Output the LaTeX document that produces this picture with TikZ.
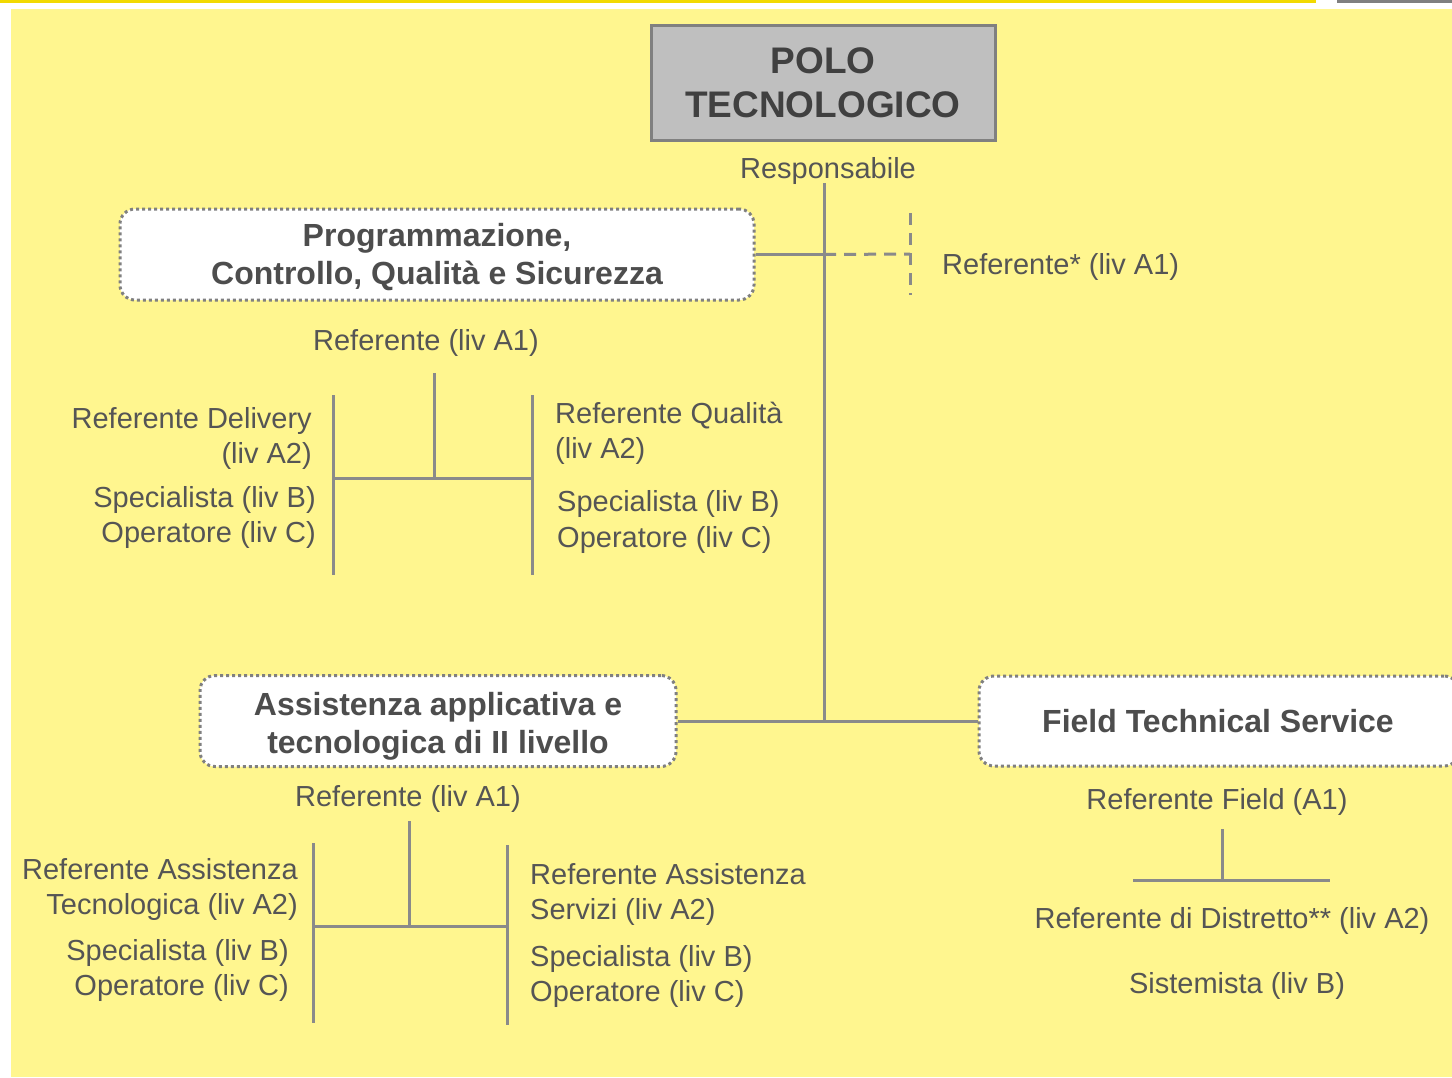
\documentclass[tikz,border=0pt]{standalone}
\usepackage{fontspec}
\setmainfont{Liberation Sans}
\definecolor{bgyellow}{HTML}{FFF68F}
\definecolor{topgold}{HTML}{F2D900}
\definecolor{topgray}{HTML}{7F7F7F}
\definecolor{txtgray}{HTML}{555555}
\definecolor{ttlgray}{HTML}{4D4D4D}
\definecolor{polotxt}{HTML}{404040}
\definecolor{linegray}{HTML}{8A8A8A}
\definecolor{dotgray}{HTML}{808080}
\definecolor{polofill}{HTML}{BFBFBF}
\begin{document}
\begin{tikzpicture}[x=1pt,y=-1pt,
  lbl/.style={font=\fontsize{29}{35}\selectfont, text=txtgray, inner sep=0pt},
  ttl/.style={font=\fontsize{32}{38}\selectfont\bfseries, text=ttlgray, inner sep=0pt, align=center},
  unitbox/.style={draw=dotgray, line width=3pt, dash pattern=on 3pt off 3pt, rounded corners=15pt, fill=white, inner sep=0pt},
  polobox/.style={draw=dotgray, line width=3pt, fill=polofill, inner sep=0pt},
  conn/.style={draw=linegray, line width=3pt},
  dconn/.style={conn, dash pattern=on 12pt off 8pt}]
\useasboundingbox (0,0) rectangle (1452,1077);
\clip (0,0) rectangle (1452,1077);
\fill[white] (0,0) rectangle (1452,1077);
\fill[bgyellow] (11,9) rectangle (1452,1077);
\fill[topgold] (0,0) rectangle (1316,2.5);
\fill[topgray] (1337,0) rectangle (1452,2.5);

% head
\node[polobox, minimum width=344pt, minimum height=115pt] (polo) at (823,82.5) {};
\node[font=\fontsize{37}{44}\selectfont\bfseries, text=polotxt, align=center, inner sep=0pt] (polotext) at (823,82.5) {POLO\\TECNOLOGICO};
\node[lbl, anchor=base] (resp) at (828,178) {Responsabile};

% boxes
\node[unitbox, minimum width=634pt, minimum height=91pt] (pcq) at (437,254.5) {};
\node[ttl] (pcqtext) at (437,256.9) {Programmazione,\\Controllo, Qualità e Sicurezza};
\node[unitbox, minimum width=476pt, minimum height=91pt] (assist) at (438,721) {};
\node[ttl] (assisttext) at (438,726) {Assistenza applicativa e\\tecnologica di II livello};
\node[unitbox, minimum width=480pt, minimum height=90pt] (field) at (1219,721) {};
\node[ttl, anchor=base] (fieldtext) at (1218,732) {Field Technical Service};

% main connectors
\coordinate (mtop) at (824,183);
\coordinate (mbot) at (824,721);
\coordinate (pcqj) at (824,254.5);
\coordinate (dend) at (910,254);
\coordinate (dtop) at (910,213);
\coordinate (dbot) at (910,295);
\draw[conn] (mtop) -- (mbot);
\draw[conn] (pcq.east) -- (pcqj);
\draw[dconn] (pcqj) -- (dend);
\draw[dconn] (dtop) -- (dbot);
\draw[conn] (assist.east) -- (field.west);
\node[lbl, anchor=base west] (refstar) at (942,274) {Referente* (liv A1)};

% PCQ subtree
\node[lbl, anchor=base] (pcqref) at (426,350) {Referente (liv A1)};
\coordinate (p1a) at (434,373);
\coordinate (p1b) at (434,478);
\coordinate (p1l) at (333,478);
\coordinate (p1r) at (532,478);
\coordinate (p1lt) at (333,395);
\coordinate (p1lb) at (333,575);
\coordinate (p1rt) at (532,395);
\coordinate (p1rb) at (532,575);
\draw[conn] (p1a) -- (p1b);
\draw[conn] (p1l) -- (p1r);
\draw[conn] (p1lt) -- (p1lb);
\draw[conn] (p1rt) -- (p1rb);
\node[lbl, anchor=base east] (pdel1) at (312,428) {Referente Delivery};
\node[lbl, anchor=base east] (pdel2) at (312,463) {(liv A2)};
\node[lbl, anchor=base east] (pdel3) at (316,507) {Specialista (liv B)};
\node[lbl, anchor=base east] (pdel4) at (316,542) {Operatore (liv C)};
\node[lbl, anchor=base west] (pqual1) at (555,423) {Referente Qualità};
\node[lbl, anchor=base west] (pqual2) at (555,458) {(liv A2)};
\node[lbl, anchor=base west] (pqual3) at (557,511) {Specialista (liv B)};
\node[lbl, anchor=base west] (pqual4) at (557,547) {Operatore (liv C)};

% Assistenza subtree
\node[lbl, anchor=base] (aref) at (408,806) {Referente (liv A1)};
\coordinate (a1a) at (409,821);
\coordinate (a1b) at (409,926);
\coordinate (a1l) at (313,926);
\coordinate (a1r) at (507,926);
\coordinate (a1lt) at (313,843);
\coordinate (a1lb) at (313,1023);
\coordinate (a1rt) at (507,845);
\coordinate (a1rb) at (507,1025);
\draw[conn] (a1a) -- (a1b);
\draw[conn] (a1l) -- (a1r);
\draw[conn] (a1lt) -- (a1lb);
\draw[conn] (a1rt) -- (a1rb);
\node[lbl, anchor=base east] (atec1) at (298,879) {Referente Assistenza};
\node[lbl, anchor=base east] (atec2) at (298,914) {Tecnologica (liv A2)};
\node[lbl, anchor=base east] (atec3) at (289,960) {Specialista (liv B)};
\node[lbl, anchor=base east] (atec4) at (289,995) {Operatore (liv C)};
\node[lbl, anchor=base west] (aser1) at (530,884) {Referente Assistenza};
\node[lbl, anchor=base west] (aser2) at (530,919) {Servizi (liv A2)};
\node[lbl, anchor=base west] (aser3) at (530,966) {Specialista (liv B)};
\node[lbl, anchor=base west] (aser4) at (530,1001) {Operatore (liv C)};

% Field subtree
\node[lbl, anchor=base] (fref) at (1217,809) {Referente Field (A1)};
\coordinate (f1a) at (1222,829);
\coordinate (f1b) at (1222,880);
\coordinate (f1l) at (1133,880);
\coordinate (f1r) at (1330,880);
\draw[conn] (f1a) -- (f1b);
\draw[conn] (f1l) -- (f1r);
\node[lbl, anchor=base] (fdist) at (1232,928) {Referente di Distretto** (liv A2)};
\node[lbl, anchor=base] (fsis) at (1237,993) {Sistemista (liv B)};
\end{tikzpicture}
\end{document}
